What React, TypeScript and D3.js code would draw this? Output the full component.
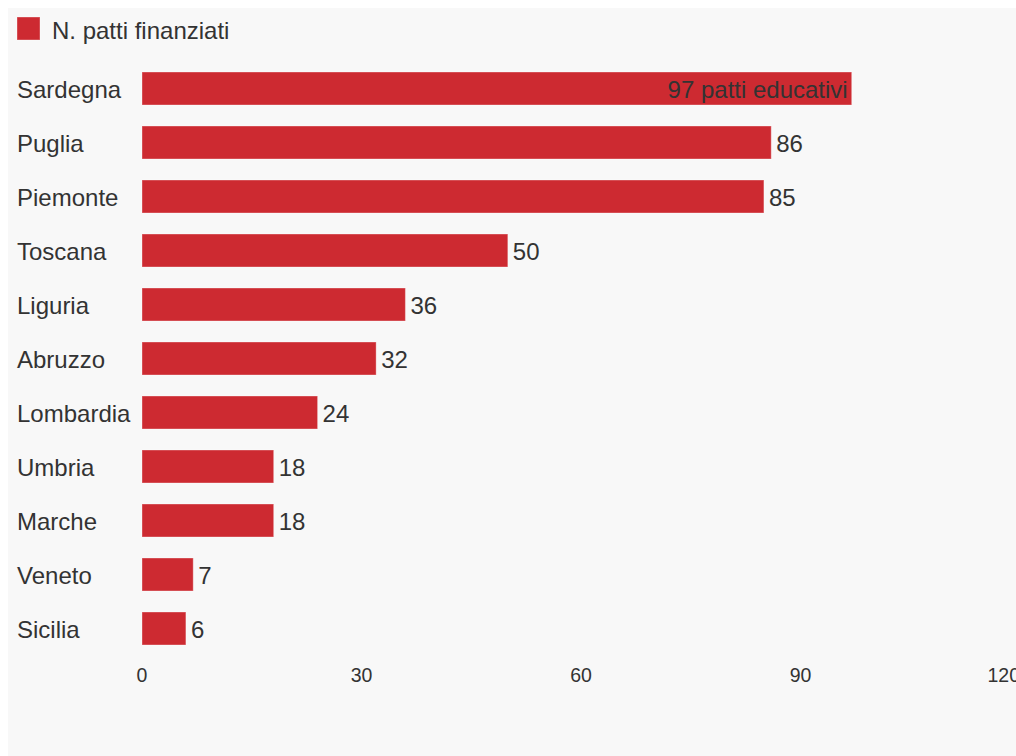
import React, { useEffect } from "react";
import * as d3 from "d3";

const categories = ["Sardegna", "Puglia", "Piemonte", "Toscana", "Liguria", "Abruzzo", "Lombardia", "Umbria", "Marche", "Veneto", "Sicilia"];
const values = [97, 86, 85, 50, 36, 32, 24, 18, 18, 7, 6];
const valueLabels = ["97 patti educativi", "86", "85", "50", "36", "32", "24", "18", "18", "7", "6"];
const tickValues = [0, 30, 60, 90, 120];
const seriesName = "N. patti finanziati";

const W = 1016;
const H = 756;
const COLOR = "#cd2a31";
const TEXT = "#333333";
const FONT = "'Liberation Sans', Arial, sans-serif";

export default function App() {
  useEffect(() => {
    document.body.style.margin = "0";
    document.body.style.overflow = "hidden";
  }, []);

  const x = d3.scaleLinear().domain([0, 120]).range([142, 1020]);
  const y = d3.scaleBand<string>().domain(categories).range([51, 666]).padding(0.389);

  return (
    <svg width={W} height={H} style={{ display: "block", fontFamily: FONT }}>
      <rect x={8} y={8} width={W - 8} height={H - 8} fill="#f8f8f8" />
      <g>
        <rect x={17} y={17} width={23} height={23} fill={COLOR} stroke="rgba(255,255,255,0.35)" strokeWidth={1} />
        <text x={52} y={30} dominantBaseline="central" fontSize={24} fill={TEXT}>{seriesName}</text>
      </g>
      {categories.map((c, i) => {
        const by = y(c)!;
        const bh = y.bandwidth();
        const bx = x(0);
        const bw = x(values[i]) - x(0);
        const inside = i === 0;
        return (
          <g key={c}>
            <text x={17} y={by + bh / 2 + 1} dominantBaseline="central" fontSize={24} fill={TEXT}>{c}</text>
            <rect x={bx} y={by} width={bw} height={bh} fill={COLOR} stroke="rgba(255,255,255,0.35)" strokeWidth={1} />
            <text
              x={inside ? x(values[i]) - 4 : x(values[i]) + 5}
              y={by + bh / 2 + 1}
              dominantBaseline="central"
              textAnchor={inside ? "end" : "start"}
              fontSize={24}
              fill={TEXT}
            >
              {valueLabels[i]}
            </text>
          </g>
        );
      })}
      {tickValues.map((t, i) => (
        <text
          key={t}
          x={x(t)}
          y={675}
          dominantBaseline="central"
          textAnchor={i === tickValues.length - 1 ? "end" : "middle"}
          fontSize={19.5}
          fill={TEXT}
        >
          {t}
        </text>
      ))}
    </svg>
  );
}
